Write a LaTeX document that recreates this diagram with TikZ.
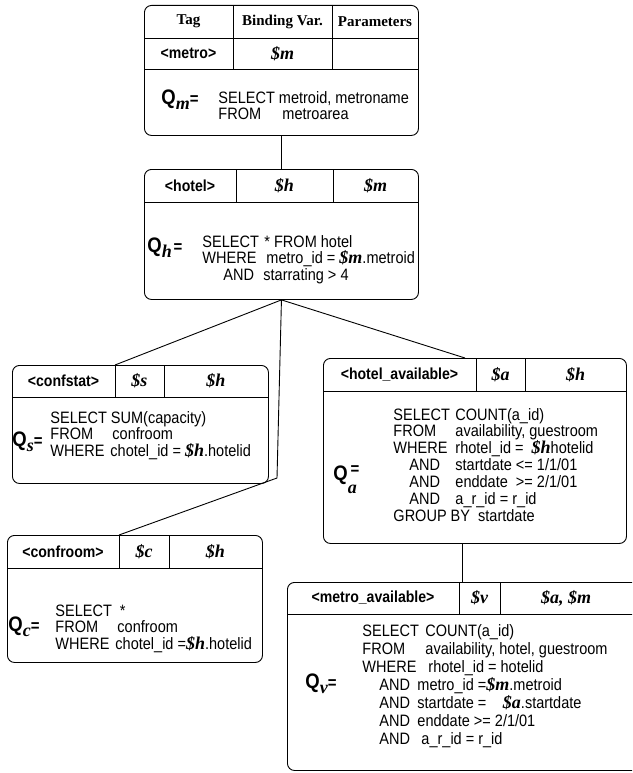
\documentclass[tikz,border=0pt]{standalone}
\usepackage{fontspec}
\setmainfont{Liberation Serif}
\setsansfont[FakeStretch=0.88]{Liberation Sans}
\newcommand{\bvar}[1]{\smash{{\rmfamily\bfseries\itshape\fontsize{18}{18}\selectfont #1}}}
\newcommand{\kw}[2]{\makebox[#1pt][l]{#2}}
\newcommand{\qeq}[2]{{\sffamily\bfseries\fontsize{21}{21}\selectfont Q}\raisebox{-5pt}{\bvar{#1}}#2{\sffamily\bfseries\fontsize{17}{17}\selectfont =}}

\begin{document}
\begin{tikzpicture}[x=1pt, y=-1pt, line width=0.9pt,
    qbox/.style={draw, rounded corners=7pt, anchor=north west, inner sep=0pt},
    hdr/.style={font=\rmfamily\bfseries\fontsize{15}{15}\selectfont, inner sep=0pt},
    tagname/.style={font=\sffamily\bfseries\fontsize{16}{16}\selectfont, inner sep=0pt},
    bind/.style={font=\rmfamily\bfseries\itshape\fontsize{18}{18}\selectfont, inner sep=0pt},
    sql/.style={font=\sffamily\fontsize{16.5}{16.5}\selectfont, anchor=base west, inner sep=0pt},
    sqlwide/.style={sql, font=\sffamily\fontsize{16.5}{18}\selectfont},
    qlab/.style={anchor=base west, inner sep=0pt}]
    \useasboundingbox (0,0) rectangle (632,773);
    \clip (0,0) rectangle (632,773);

    % metro
    \node[qbox, minimum width=274pt, minimum height=130pt] (metro) at (144,5) {};
    \draw (144,38) -- (418,38);
    \draw (144,69) -- (418,69);
    \draw (233,5) -- (233,69);
    \draw (332,5) -- (332,69);
    \node[hdr] (metro-h1) at (188.5,21.5) {Tag};
    \node[hdr] (metro-h2) at (282.5,21.5) {Binding Var.};
    \node[hdr] (metro-h3) at (375,21.5) {Parameters};
    \node[tagname] (metro-tag) at (188.5,53.5) {<metro>};
    \node[bind] (metro-var) at (282.5,53.5) {\$m};
    \node[qlab] (metro-q) at (161,105) {\qeq{m}{}};
    \node[sql] (metro-sql) at (218,103) {\begin{tabular}[t]{@{}l@{}}
        SELECT metroid, metroname\\
        \kw{64}{FROM}metroarea
    \end{tabular}};

    % hotel
    \node[qbox, minimum width=274pt, minimum height=130pt] (hotel) at (144,169) {};
    \draw (144,202) -- (418,202);
    \draw (236,169) -- (236,202);
    \draw (333,169) -- (333,202);
    \node[tagname] (hotel-tag) at (190,185.5) {<hotel>};
    \node[bind] (hotel-var) at (284.5,185.5) {\$h};
    \node[bind] (hotel-par) at (375.5,185.5) {\$m};
    \node[qlab] (hotel-q) at (147,252) {\qeq{h}{\,}};
    \node[sql] (hotel-sql) at (202,247) {\begin{tabular}[t]{@{}l@{}}
        \kw{62}{SELECT}* FROM hotel\\
        \kw{64}{WHERE}metro\_id = \bvar{\$m}.metroid\\
        \hspace{21pt}\kw{40}{AND}starrating > 4
    \end{tabular}};

    % confstat
    \node[qbox, minimum width=256pt, minimum height=118pt] (confstat) at (12,365) {};
    \draw (12,397) -- (268,397);
    \draw (115,365) -- (115,397);
    \draw (164,365) -- (164,397);
    \node[tagname] (confstat-tag) at (63.5,381) {<confstat>};
    \node[bind] (confstat-var) at (139.5,381) {\$s};
    \node[bind] (confstat-par) at (216,381) {\$h};
    \node[qlab] (confstat-q) at (12,446) {\qeq{s}{}};
    \node[sql] (confstat-sql) at (50,423) {\begin{tabular}[t]{@{}l@{}}
        SELECT SUM(capacity)\\
        \kw{62}{FROM}confroom\\
        \kw{60}{WHERE}chotel\_id = \bvar{\$h}.hotelid
    \end{tabular}};

    % hotel_available
    \node[qbox, minimum width=303pt, minimum height=185pt] (havail) at (323,358) {};
    \draw (323,391) -- (626,391);
    \draw (476,358) -- (476,391);
    \draw (525,358) -- (525,391);
    \node[tagname] (havail-tag) at (399.5,374.5) {<hotel\_available>};
    \node[bind] (havail-var) at (500.5,374.5) {\$a};
    \node[bind] (havail-par) at (575.5,374.5) {\$h};
    \node[qlab] (havail-q) at (333,480) {{\sffamily\bfseries\fontsize{21}{21}\selectfont Q}\rlap{\raisebox{6pt}{\sffamily\bfseries\fontsize{17}{17}\selectfont\,=}}\raisebox{-13pt}{\bvar{a}}};
    \node[sql] (havail-sql) at (393,420) {\begin{tabular}[t]{@{}l@{}}
        \kw{62}{SELECT}COUNT(a\_id)\\
        \kw{62}{FROM}availability, guestroom\\
        \kw{62}{WHERE}rhotel\_id =\ \ \bvar{\$h}hotelid\\
        \hspace{16pt}\kw{46}{AND}startdate <= 1/1/01\\
        \hspace{16pt}\kw{46}{AND}enddate\ \ >= 2/1/01\\
        \hspace{16pt}\kw{46}{AND}a\_r\_id = r\_id\\
        GROUP BY\ \ startdate
    \end{tabular}};

    % confroom
    \node[qbox, minimum width=255pt, minimum height=127pt] (confroom) at (7,535) {};
    \draw (7,568) -- (262,568);
    \draw (119,535) -- (119,568);
    \draw (169,535) -- (169,568);
    \node[tagname] (confroom-tag) at (63,551.5) {<confroom>};
    \node[bind] (confroom-var) at (144,551.5) {\$c};
    \node[bind] (confroom-par) at (215.5,551.5) {\$h};
    \node[qlab] (confroom-q) at (8,631) {\qeq{c}{}};
    \node[sql] (confroom-sql) at (55,616) {\begin{tabular}[t]{@{}l@{}}
        SELECT\ \ *\\
        \kw{62}{FROM}confroom\\
        \kw{60}{WHERE}chotel\_id =\bvar{\$h}.hotelid
    \end{tabular}};

    % metro_available
    \node[qbox, minimum width=360pt, minimum height=188pt] (mavail) at (287,582) {};
    \draw (287,614) -- (647,614);
    \draw (459,582) -- (459,614);
    \draw (500,582) -- (500,614);
    \node[tagname] (mavail-tag) at (373,598) {<metro\_available>};
    \node[bind] (mavail-var) at (479.5,598) {\$v};
    \node[bind] (mavail-par) at (566,598) {\$a, \$m};
    \node[qlab] (mavail-q) at (305,688) {\qeq{v}{}};
    \node[sqlwide] (mavail-sql) at (362,636) {\begin{tabular}[t]{@{}l@{}}
        \kw{63}{SELECT}COUNT(a\_id)\\
        \kw{63}{FROM}availability, hotel, guestroom\\
        \kw{66}{WHERE}rhotel\_id = hotelid\\
        \hspace{17pt}\kw{38}{AND}metro\_id =\bvar{\$m}.metroid\\
        \hspace{17pt}\kw{38}{AND}startdate =\quad\bvar{\$a}.startdate\\
        \hspace{17pt}\kw{38}{AND}enddate >= 2/1/01\\
        \hspace{17pt}\kw{42}{AND}a\_r\_id = r\_id
    \end{tabular}};

    % connectors
    \coordinate (confstat-in) at (115,365);
    \coordinate (havail-in) at (465,358);
    \coordinate (confroom-bend) at (277,478);
    \coordinate (confroom-in) at (119,535);
    \coordinate (havail-out) at (462,543);
    \coordinate (mavail-in) at (462,582);
    \draw (metro.south) -- (hotel.north);
    \draw (hotel.south) -- (confstat-in);
    \draw (hotel.south) -- (havail-in);
    \draw (hotel.south) -- (confroom-bend) -- (confroom-in);
    \draw (havail-out) -- (mavail-in);
\end{tikzpicture}
\end{document}
